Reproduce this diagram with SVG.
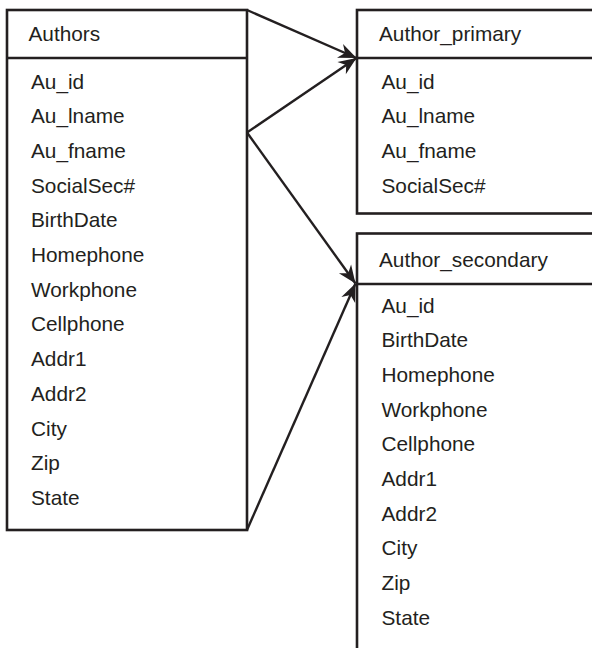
<svg xmlns="http://www.w3.org/2000/svg" width="592" height="648" viewBox="0 0 592 648">
  <style>
    .box { fill: #fff; stroke: #231f20; stroke-width: 2.6; }
    .rule { stroke: #231f20; stroke-width: 2.6; fill: none; }
    .t { font-family: "Liberation Sans", Arial, Helvetica, sans-serif; font-size: 20.8px; fill: #231f20; }
    .link { stroke: #231f20; stroke-width: 2.4; fill: none; marker-end: url(#arrow); }
  </style>
  <defs>
    <marker id="arrow" markerUnits="userSpaceOnUse" markerWidth="24" markerHeight="20" viewBox="-20 -10 24 20" refX="0" refY="0" orient="auto">
      <path d="M0,0 L-18,-7.5 L-12.5,0 L-18,7.5 Z" fill="#231f20"/>
    </marker>
  </defs>

  <!-- Authors table -->
  <g id="authors">
    <rect class="box" x="7" y="10" width="240" height="520"/>
    <line class="rule" x1="7" y1="58" x2="247" y2="58"/>
    <text class="t" x="28.5" y="40.5">Authors</text>
    <text class="t" x="31" y="88.5">Au_id</text>
    <text class="t" x="31" y="123.3">Au_lname</text>
    <text class="t" x="31" y="158">Au_fname</text>
    <text class="t" x="31" y="192.5">SocialSec#</text>
    <text class="t" x="31" y="227">BirthDate</text>
    <text class="t" x="31" y="261.7">Homephone</text>
    <text class="t" x="31" y="296.5">Workphone</text>
    <text class="t" x="31" y="331">Cellphone</text>
    <text class="t" x="31" y="366">Addr1</text>
    <text class="t" x="31" y="401">Addr2</text>
    <text class="t" x="31" y="435.5">City</text>
    <text class="t" x="31" y="470">Zip</text>
    <text class="t" x="31" y="505">State</text>
  </g>

  <!-- Author_primary table (runs past the right edge) -->
  <g id="author_primary">
    <rect class="box" x="357" y="10" width="250" height="203.5"/>
    <line class="rule" x1="357" y1="58" x2="600" y2="58"/>
    <text class="t" x="379" y="40.5">Author_primary</text>
    <text class="t" x="381.5" y="88.5">Au_id</text>
    <text class="t" x="381.5" y="123.3">Au_lname</text>
    <text class="t" x="381.5" y="158">Au_fname</text>
    <text class="t" x="381.5" y="192.5">SocialSec#</text>
  </g>

  <!-- Author_secondary table (runs past the right and bottom edges) -->
  <g id="author_secondary">
    <rect class="box" x="357" y="233.5" width="250" height="430"/>
    <line class="rule" x1="357" y1="284" x2="600" y2="284"/>
    <text class="t" x="379" y="266.5">Author_secondary</text>
    <text class="t" x="381.5" y="312.5">Au_id</text>
    <text class="t" x="381.5" y="347.3">BirthDate</text>
    <text class="t" x="381.5" y="382">Homephone</text>
    <text class="t" x="381.5" y="416.7">Workphone</text>
    <text class="t" x="381.5" y="451.3">Cellphone</text>
    <text class="t" x="381.5" y="486">Addr1</text>
    <text class="t" x="381.5" y="520.7">Addr2</text>
    <text class="t" x="381.5" y="555.3">City</text>
    <text class="t" x="381.5" y="590">Zip</text>
    <text class="t" x="381.5" y="624.7">State</text>
  </g>

  <!-- Connectors -->
  <g id="connectors">
    <line class="link" x1="247" y1="10" x2="356.5" y2="58"/>
    <line class="link" x1="247" y1="132.5" x2="356.5" y2="58"/>
    <line class="link" x1="247" y1="132.5" x2="355.5" y2="283.5"/>
    <line class="link" x1="247" y1="530" x2="355.5" y2="283.5"/>
  </g>
</svg>
